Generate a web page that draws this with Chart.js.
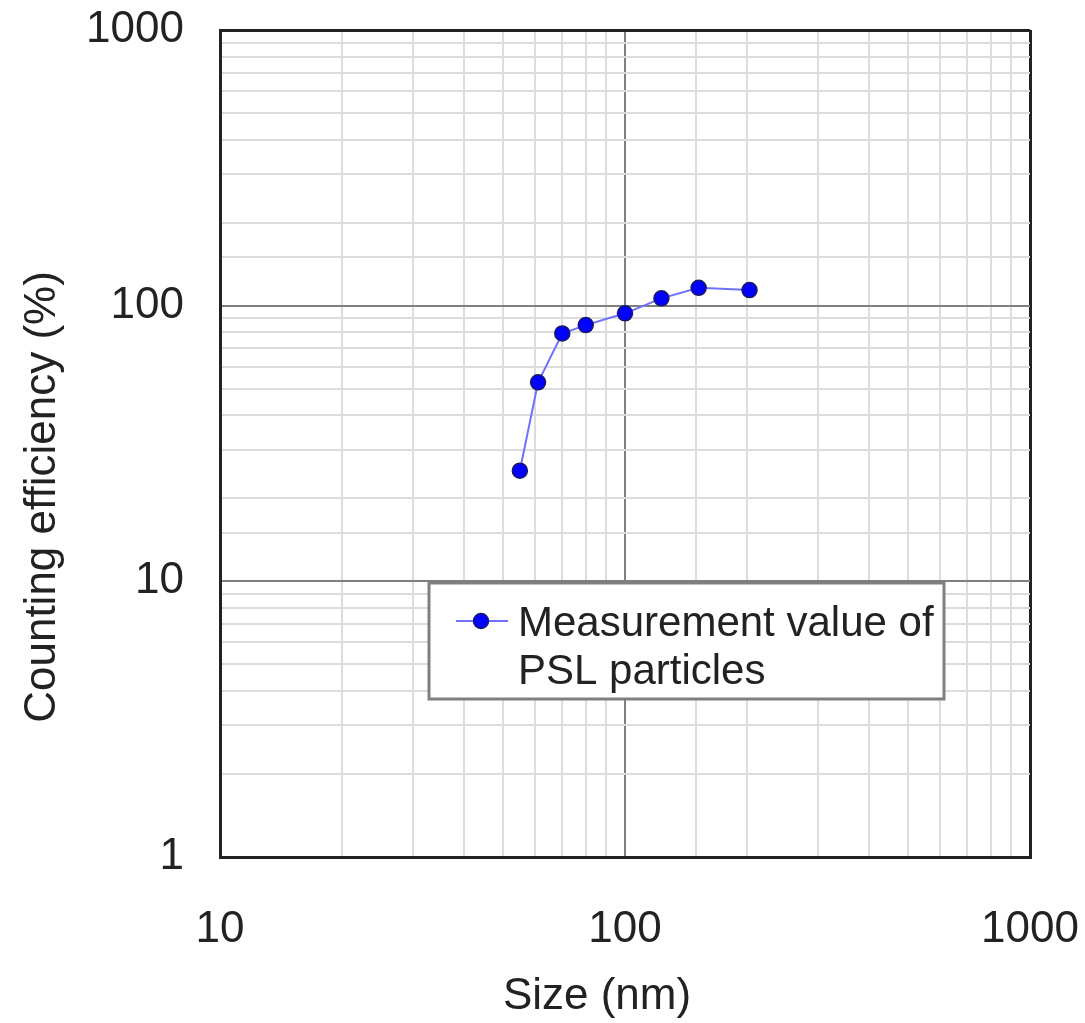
<!DOCTYPE html>
<html>
<head>
<meta charset="utf-8">
<script src="https://cdn.jsdelivr.net/npm/chart.js@4.4.0/dist/chart.umd.min.js"></script>
<style>
  html, body { margin: 0; padding: 0; background: #fff; }
  #wrap { width: 1085px; height: 1023px; }
</style>
</head>
<body>
<div id="wrap"><canvas id="chart" width="1085" height="1023"></canvas></div>
<script>
// data
const sizes = [55, 61, 70, 80, 100, 123, 152, 203]
const efficiency = [25.2, 52.7, 79.3, 85.0, 93.8, 106.3, 116.1, 113.9]
const xTickLabels = [10, 100, 1000]
const yTickLabels = [1, 10, 100, 1000]
const seriesLabel = ['Measurement value of', 'PSL particles']
const xTitle = 'Size (nm)'
const yTitle = 'Counting efficiency (%)'

const FONT = "'Liberation Sans', Arial, sans-serif"
const isLabelled = (v, list) => list.some(t => Math.abs(t - v) < 1e-9)

function gridColor(ctx, min, max, majors) {
  const v = ctx.tick && ctx.tick.value
  if (v === min || v === max) return '#222222'
  return isLabelled(v, majors) ? '#7f7f7f' : '#dcdcdc'
}

// axis titles and the boxed legend sit at fixed places inside the plot
const extras = {
  id: 'extras',
  afterDraw(chart) {
    const c = chart.ctx
    c.save()
    c.fillStyle = '#222'
    c.font = '44px ' + FONT
    c.textAlign = 'center'
    c.textBaseline = 'middle'
    c.fillText(xTitle, 597, 997)
    c.translate(43, 497)
    c.rotate(-Math.PI / 2)
    c.fillText(yTitle, 0, 0)
    c.restore()

    // legend box
    c.save()
    c.fillStyle = '#fff'
    c.fillRect(429, 583, 515, 116)
    c.strokeStyle = '#7f7f7f'
    c.lineWidth = 3
    c.strokeRect(429, 583, 515, 116)
    c.strokeStyle = '#7070ff'
    c.lineWidth = 2
    c.beginPath()
    c.moveTo(456, 621)
    c.lineTo(508, 621)
    c.stroke()
    c.beginPath()
    c.arc(481, 621, 7.5, 0, Math.PI * 2)
    c.fillStyle = '#0000ff'
    c.fill()
    c.strokeStyle = '#1a1a66'
    c.lineWidth = 1.5
    c.stroke()
    c.fillStyle = '#222'
    c.font = '42px ' + FONT
    c.textAlign = 'left'
    c.textBaseline = 'alphabetic'
    c.fillText(seriesLabel[0], 518, 636)
    c.fillText(seriesLabel[1], 518, 684)
    c.restore()
  }
}

new Chart(document.getElementById('chart'), {
  type: 'scatter',
  data: {
    datasets: [{
      data: sizes.map((s, i) => ({ x: s, y: efficiency[i] })),
      showLine: true,
      borderColor: '#7070ff',
      borderWidth: 2,
      pointRadius: 7.5,
      pointBackgroundColor: '#0000ff',
      pointBorderColor: '#1a1a66',
      pointBorderWidth: 1.5
    }]
  },
  options: {
    responsive: false,
    animation: false,
    layout: { padding: { top: 30, right: 55, left: 0, bottom: 0 } },
    plugins: { legend: { display: false }, tooltip: { enabled: false } },
    scales: {
      x: {
        type: 'logarithmic',
        min: 10,
        max: 1000,
        afterFit: (s) => { s.height = 166; s.paddingLeft = 0; s.paddingRight = 0 },
        ticks: {
          autoSkip: false,
          maxRotation: 0,
          padding: 46,
          color: '#222',
          font: { family: FONT, size: 44 },
          callback: (v) => isLabelled(v, xTickLabels) ? String(v) : ''
        },
        grid: {
          drawTicks: false,
          color: (ctx) => gridColor(ctx, 10, 1000, xTickLabels),
          lineWidth: (ctx) => (ctx.tick && (ctx.tick.value === 10 || ctx.tick.value === 1000)) ? 3 : 2
        },
        border: { color: '#222222', width: 3 }
      },
      y: {
        type: 'logarithmic',
        min: 1,
        max: 1000,
        afterFit: (s) => { s.width = 220; s.paddingTop = 0; s.paddingBottom = 0 },
        ticks: {
          autoSkip: false,
          padding: 36,
          color: '#222',
          font: { family: FONT, size: 44 },
          callback: (v) => isLabelled(v, yTickLabels) ? String(v) : ''
        },
        grid: {
          drawTicks: false,
          color: (ctx) => gridColor(ctx, 1, 1000, yTickLabels),
          lineWidth: (ctx) => (ctx.tick && (ctx.tick.value === 1 || ctx.tick.value === 1000)) ? 3 : 2
        },
        border: { color: '#222222', width: 3 }
      }
    }
  },
  plugins: [extras]
})
</script>
</body>
</html>
